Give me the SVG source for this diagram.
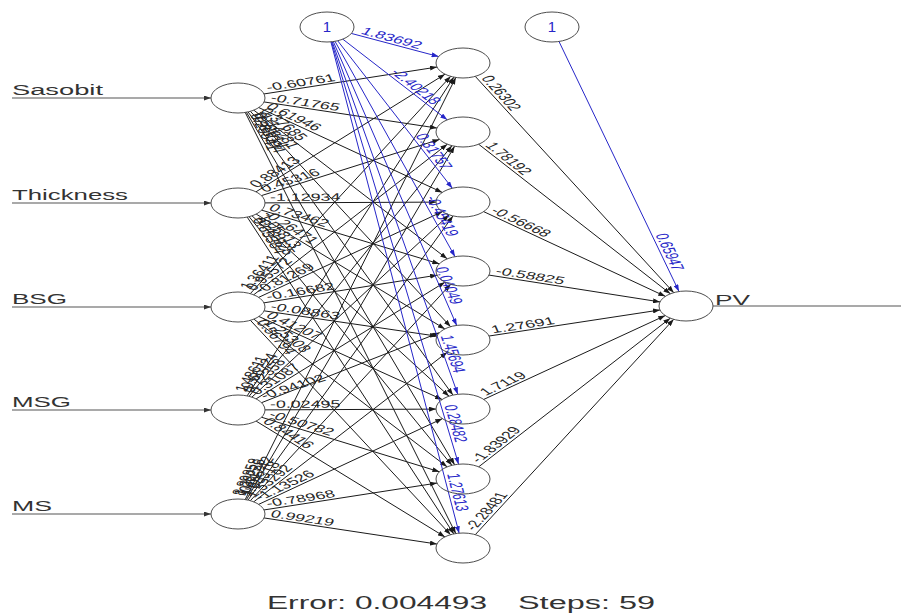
<svg xmlns="http://www.w3.org/2000/svg" width="901" height="615" viewBox="0 0 901 615">
<style>
.ln{stroke:#1a1a1a;stroke-width:1;fill:none;marker-end:url(#ak)}
.lb{stroke:#2626c8;stroke-width:1;fill:none;marker-end:url(#ab)}
.in{stroke:#555;stroke-width:1.2;fill:none}
.nd{fill:none;stroke:#4d4d4d;stroke-width:1}
.w{font-family:"Liberation Sans",Arial,sans-serif;font-size:10.5px;fill:#262626}
.wb{font-family:"Liberation Sans",Arial,sans-serif;font-size:10.5px;fill:#2626c8}
.t{font-family:"Liberation Sans",Arial,sans-serif;font-size:14px;fill:#333}
.one{font-family:"Liberation Sans",Arial,sans-serif;font-size:15px;fill:#2626c8;text-anchor:middle}
.ft{font-family:"Liberation Sans",Arial,sans-serif;font-size:18px;fill:#333}
</style>
<defs>
<marker id="ak" markerUnits="userSpaceOnUse" markerWidth="7" markerHeight="5" refX="7" refY="2.5" orient="auto"><path d="M0,0 L7,2.5 L0,5 Z" fill="#1a1a1a"/></marker>
<marker id="ab" markerUnits="userSpaceOnUse" markerWidth="7" markerHeight="5" refX="7" refY="2.5" orient="auto"><path d="M0,0 L7,2.5 L0,5 Z" fill="#2626c8"/></marker>
<marker id="ai" markerUnits="userSpaceOnUse" markerWidth="7" markerHeight="5" refX="7" refY="2.5" orient="auto"><path d="M0,0 L7,2.5 L0,5 Z" fill="#333"/></marker>
</defs>
<rect width="901" height="615" fill="#fff"/>
<g id="connectors">
<line class="in" x1="12" y1="98" x2="211" y2="98" marker-end="url(#ai)"/>
<line class="in" x1="12" y1="203" x2="211" y2="203" marker-end="url(#ai)"/>
<line class="in" x1="12" y1="307" x2="211" y2="307" marker-end="url(#ai)"/>
<line class="in" x1="12" y1="410" x2="211" y2="410" marker-end="url(#ai)"/>
<line class="in" x1="12" y1="514" x2="211" y2="514" marker-end="url(#ai)"/>
<line class="in" x1="713" y1="306" x2="901" y2="306"/>
<line class="ln" x1="264.0" y1="93.95" x2="437.0" y2="67.05"/>
<line class="ln" x1="264.05" y1="101.94" x2="436.95" y2="128.06"/>
<line class="ln" x1="258.8" y1="107.59" x2="442.2" y2="192.41"/>
<line class="ln" x1="253.8" y1="110.16" x2="447.2" y2="258.84"/>
<line class="ln" x1="250.4" y1="111.33" x2="450.6" y2="326.67"/>
<line class="ln" x1="248.07" y1="111.92" x2="452.93" y2="395.08"/>
<line class="ln" x1="246.42" y1="112.25" x2="454.58" y2="464.75"/>
<line class="ln" x1="245.23" y1="112.45" x2="455.77" y2="533.55"/>
<line class="ln" x1="256.0" y1="191.81" x2="445.0" y2="74.19"/>
<line class="ln" x1="261.5" y1="195.59" x2="439.5" y2="139.41"/>
<line class="ln" x1="265.0" y1="202.88" x2="436.0" y2="202.12"/>
<line class="ln" x1="261.7" y1="210.17" x2="439.3" y2="263.83"/>
<line class="ln" x1="256.2" y1="214.08" x2="444.8" y2="328.92"/>
<line class="ln" x1="252.0" y1="215.83" x2="449.0" y2="396.17"/>
<line class="ln" x1="249.1" y1="216.66" x2="451.9" y2="465.34"/>
<line class="ln" x1="247.2" y1="217.1" x2="453.8" y2="533.9"/>
<line class="ln" x1="250.3" y1="293.65" x2="450.7" y2="76.35"/>
<line class="ln" x1="253.7" y1="294.8" x2="447.3" y2="144.2"/>
<line class="ln" x1="258.7" y1="297.35" x2="442.3" y2="211.65"/>
<line class="ln" x1="263.9" y1="302.85" x2="437.1" y2="275.15"/>
<line class="ln" x1="264.1" y1="310.83" x2="436.9" y2="336.17"/>
<line class="ln" x1="258.9" y1="316.49" x2="442.1" y2="399.51"/>
<line class="ln" x1="253.9" y1="319.13" x2="447.1" y2="466.87"/>
<line class="ln" x1="250.4" y1="320.32" x2="450.6" y2="534.68"/>
<line class="ln" x1="247.15" y1="395.89" x2="453.85" y2="77.11"/>
<line class="ln" x1="249.07" y1="396.32" x2="451.93" y2="145.68"/>
<line class="ln" x1="251.9" y1="397.14" x2="449.1" y2="214.86"/>
<line class="ln" x1="256.1" y1="398.85" x2="444.9" y2="282.15"/>
<line class="ln" x1="261.6" y1="402.67" x2="439.4" y2="332.67"/>
<line class="ln" x1="265.0" y1="409.88" x2="436.0" y2="409.12"/>
<line class="ln" x1="261.6" y1="417.25" x2="439.4" y2="471.75"/>
<line class="ln" x1="256.1" y1="421.12" x2="444.9" y2="536.88"/>
<line class="ln" x1="245.21" y1="499.55" x2="455.79" y2="77.45"/>
<line class="ln" x1="246.4" y1="499.74" x2="454.6" y2="146.26"/>
<line class="ln" x1="248.04" y1="500.08" x2="452.96" y2="215.92"/>
<line class="ln" x1="250.35" y1="500.66" x2="450.65" y2="284.34"/>
<line class="ln" x1="253.75" y1="501.82" x2="447.25" y2="352.18"/>
<line class="ln" x1="258.7" y1="504.35" x2="442.3" y2="418.65"/>
<line class="ln" x1="264.0" y1="509.95" x2="437.0" y2="483.05"/>
<line class="ln" x1="264.05" y1="517.94" x2="436.95" y2="544.06"/>
<line class="lb" x1="351.4" y1="33.45" x2="438.6" y2="56.55"/>
<line class="lb" x1="342.8" y1="39.17" x2="447.2" y2="119.83"/>
<line class="lb" x1="337.7" y1="40.77" x2="452.3" y2="188.23"/>
<line class="lb" x1="335.0" y1="41.33" x2="455.0" y2="256.67"/>
<line class="lb" x1="333.3" y1="41.58" x2="456.7" y2="325.42"/>
<line class="lb" x1="332.2" y1="41.71" x2="457.8" y2="394.29"/>
<line class="lb" x1="331.5" y1="41.79" x2="458.6" y2="464.21"/>
<line class="lb" x1="330.9" y1="41.85" x2="459.1" y2="533.15"/>
<line class="ln" x1="475.26" y1="76.36" x2="673.74" y2="292.64"/>
<line class="ln" x1="478.66" y1="144.22" x2="670.34" y2="293.78"/>
<line class="ln" x1="483.68" y1="211.64" x2="665.32" y2="296.36"/>
<line class="ln" x1="488.98" y1="275.08" x2="660.02" y2="301.92"/>
<line class="ln" x1="489.04" y1="336.03" x2="659.96" y2="309.97"/>
<line class="ln" x1="483.76" y1="399.41" x2="665.24" y2="315.59"/>
<line class="ln" x1="478.72" y1="466.8" x2="670.28" y2="318.2"/>
<line class="ln" x1="475.3" y1="534.65" x2="673.7" y2="319.35"/>
<line class="lb" x1="559" y1="41.5" x2="679" y2="291.5"/>

<text class="w" transform="translate(264,93.95) scale(1.7,1) rotate(-14.81)" x="3" y="-2">-0.60761</text>
<text class="w" transform="translate(264.05,101.94) scale(1.7,1) rotate(14.41)" x="3" y="-2">-0.71765</text>
<text class="w" transform="translate(258.8,107.59) scale(1.7,1) rotate(38.16)" x="3" y="-2">0.61946</text>
<text class="w" transform="translate(253.8,110.16) scale(1.7,1) rotate(52.58)" x="3" y="-2">0.37685</text>
<text class="w" transform="translate(250.4,111.33) scale(1.7,1) rotate(61.32)" x="3" y="-2">-1.14281</text>
<text class="w" transform="translate(248.07,111.92) scale(1.7,1) rotate(66.95)" x="3" y="-2">0.52614</text>
<text class="w" transform="translate(246.42,112.25) scale(1.7,1) rotate(70.84)" x="3" y="-2">-0.83094</text>
<text class="w" transform="translate(245.23,112.45) scale(1.7,1) rotate(73.61)" x="3" y="-2">0.29541</text>
<text class="w" transform="translate(256,191.81) scale(1.7,1) rotate(-46.61)" x="3" y="-2">0.88413</text>
<text class="w" transform="translate(261.5,195.59) scale(1.7,1) rotate(-28.21)" x="3" y="-2">0.45316</text>
<text class="w" transform="translate(265,202.88) scale(1.7,1) rotate(-0.43)" x="3" y="-2">-1.12934</text>
<text class="w" transform="translate(261.7,210.17) scale(1.7,1) rotate(27.19)" x="3" y="-2">0.73462</text>
<text class="w" transform="translate(256.2,214.08) scale(1.7,1) rotate(45.98)" x="3" y="-2">-0.26471</text>
<text class="w" transform="translate(252,215.83) scale(1.7,1) rotate(57.28)" x="3" y="-2">1.05813</text>
<text class="w" transform="translate(249.1,216.66) scale(1.7,1) rotate(64.38)" x="3" y="-2">-0.41925</text>
<text class="w" transform="translate(247.2,217.1) scale(1.7,1) rotate(69.01)" x="3" y="-2">0.63384</text>
<text class="w" transform="translate(250.3,293.65) scale(1.7,1) rotate(-61.52)" x="3" y="-2">1.36411</text>
<text class="w" transform="translate(253.7,294.8) scale(1.7,1) rotate(-52.89)" x="3" y="-2">0.95572</text>
<text class="w" transform="translate(258.7,297.35) scale(1.7,1) rotate(-38.42)" x="3" y="-2">-0.81269</text>
<text class="w" transform="translate(263.9,302.85) scale(1.7,1) rotate(-15.22)" x="3" y="-2">-0.16682</text>
<text class="w" transform="translate(264.1,310.83) scale(1.7,1) rotate(14)" x="3" y="-2">-0.08863</text>
<text class="w" transform="translate(258.9,316.49) scale(1.7,1) rotate(37.62)" x="3" y="-2">0.41207</text>
<text class="w" transform="translate(253.9,319.13) scale(1.7,1) rotate(52.42)" x="3" y="-2">-1.25308</text>
<text class="w" transform="translate(250.4,320.32) scale(1.7,1) rotate(61.23)" x="3" y="-2">0.56794</text>
<text class="w" transform="translate(247.15,395.89) scale(1.7,1) rotate(-69.12)" x="3" y="-2">1.48611</text>
<text class="w" transform="translate(249.07,396.32) scale(1.7,1) rotate(-64.54)" x="3" y="-2">-0.66724</text>
<text class="w" transform="translate(251.9,397.14) scale(1.7,1) rotate(-57.53)" x="3" y="-2">0.72358</text>
<text class="w" transform="translate(256.1,398.85) scale(1.7,1) rotate(-46.4)" x="3" y="-2">0.31087</text>
<text class="w" transform="translate(261.6,402.67) scale(1.7,1) rotate(-27.87)" x="3" y="-2">-0.94102</text>
<text class="w" transform="translate(265,409.88) scale(1.7,1) rotate(-0.43)" x="3" y="-2">-0.02495</text>
<text class="w" transform="translate(261.6,417.25) scale(1.7,1) rotate(27.53)" x="3" y="-2">-0.50782</text>
<text class="w" transform="translate(256.1,421.12) scale(1.7,1) rotate(46.2)" x="3" y="-2">0.84416</text>
<text class="w" transform="translate(245.21,499.55) scale(1.7,1) rotate(-73.65)" x="3" y="-2">8.89858</text>
<text class="w" transform="translate(246.4,499.74) scale(1.7,1) rotate(-70.89)" x="3" y="-2">1.26235</text>
<text class="w" transform="translate(248.04,500.08) scale(1.7,1) rotate(-67.01)" x="3" y="-2">-0.61742</text>
<text class="w" transform="translate(250.35,500.66) scale(1.7,1) rotate(-61.42)" x="3" y="-2">1.68318</text>
<text class="w" transform="translate(253.75,501.82) scale(1.7,1) rotate(-52.74)" x="3" y="-2">1.53292</text>
<text class="w" transform="translate(258.7,504.35) scale(1.7,1) rotate(-38.42)" x="3" y="-2">-1.13526</text>
<text class="w" transform="translate(264,509.95) scale(1.7,1) rotate(-14.81)" x="3" y="-2">-0.78968</text>
<text class="w" transform="translate(264.05,517.94) scale(1.7,1) rotate(14.41)" x="3" y="-2">0.99219</text>
<text class="wb" text-anchor="end" transform="translate(417.3,50.9) scale(1.7,1) rotate(24.23)" y="-2">1.83692</text>
<text class="wb" text-anchor="end" transform="translate(429.8,106.4) scale(1.7,1) rotate(52.7)" y="-2">-2.40218</text>
<text class="wb" text-anchor="end" transform="translate(438.8,170.9) scale(1.7,1) rotate(65.43)" y="-2">0.31757</text>
<text class="wb" text-anchor="end" transform="translate(444.3,237.5) scale(1.7,1) rotate(71.85)" y="-2">-0.45419</text>
<text class="wb" text-anchor="end" transform="translate(447.9,305.2) scale(1.7,1) rotate(75.66)" y="-2">0.04049</text>
<text class="wb" text-anchor="end" transform="translate(450.4,373.6) scale(1.7,1) rotate(78.17)" y="-2">1.45694</text>
<text class="wb" text-anchor="end" transform="translate(452.2,443.1) scale(1.7,1) rotate(79.96)" y="-2">0.28482</text>
<text class="wb" text-anchor="end" transform="translate(453.5,511.9) scale(1.7,1) rotate(81.27)" y="-2">1.27613</text>
<text class="w" transform="translate(475.26,76.36) scale(1.7,1) rotate(61.64)" x="3" y="-2">0.26302</text>
<text class="w" transform="translate(478.66,144.22) scale(1.7,1) rotate(52.99)" x="3" y="-2">1.78192</text>
<text class="w" transform="translate(483.68,211.64) scale(1.7,1) rotate(38.41)" x="3" y="-2">-0.56668</text>
<text class="w" transform="translate(488.98,275.08) scale(1.7,1) rotate(14.94)" x="3" y="-2">-0.58825</text>
<text class="w" transform="translate(489.04,336.03) scale(1.7,1) rotate(-14.53)" x="3" y="-2">1.27691</text>
<text class="w" transform="translate(483.76,399.41) scale(1.7,1) rotate(-38.14)" x="3" y="-2">1.7119</text>
<text class="w" transform="translate(478.72,466.8) scale(1.7,1) rotate(-52.83)" x="3" y="-2">-1.83929</text>
<text class="w" transform="translate(475.3,534.65) scale(1.7,1) rotate(-61.54)" x="3" y="-2">-2.28481</text>
<text class="wb" text-anchor="end" transform="translate(669.5,271.7) scale(1.7,1) rotate(74.23)" y="-2">0.65947</text>
</g>
<g id="in-sasobit"><text class="t" x="12" y="95" textLength="91" lengthAdjust="spacingAndGlyphs">Sasobit</text><ellipse class="nd" cx="238" cy="98" rx="27" ry="15"/></g>
<g id="in-thickness"><text class="t" x="12" y="200" textLength="116" lengthAdjust="spacingAndGlyphs">Thickness</text><ellipse class="nd" cx="238" cy="203" rx="27" ry="15"/></g>
<g id="in-bsg"><text class="t" x="12" y="304" textLength="55" lengthAdjust="spacingAndGlyphs">BSG</text><ellipse class="nd" cx="238" cy="307" rx="27" ry="15"/></g>
<g id="in-msg"><text class="t" x="12" y="407" textLength="59" lengthAdjust="spacingAndGlyphs">MSG</text><ellipse class="nd" cx="238" cy="410" rx="27" ry="15"/></g>
<g id="in-ms"><text class="t" x="12" y="511" textLength="40" lengthAdjust="spacingAndGlyphs">MS</text><ellipse class="nd" cx="238" cy="514" rx="27" ry="15"/></g>
<g id="bias1"><ellipse class="nd" cx="327" cy="27" rx="27" ry="15"/><text class="one" x="327" y="32">1</text></g>
<g id="bias2"><ellipse class="nd" cx="552" cy="27" rx="27" ry="15"/><text class="one" x="552" y="32">1</text></g>
<g id="h1"><ellipse class="nd" cx="463" cy="63" rx="27" ry="15"/></g>
<g id="h2"><ellipse class="nd" cx="463" cy="132" rx="27" ry="15"/></g>
<g id="h3"><ellipse class="nd" cx="463" cy="202" rx="27" ry="15"/></g>
<g id="h4"><ellipse class="nd" cx="463" cy="271" rx="27" ry="15"/></g>
<g id="h5"><ellipse class="nd" cx="463" cy="340" rx="27" ry="15"/></g>
<g id="h6"><ellipse class="nd" cx="463" cy="409" rx="27" ry="15"/></g>
<g id="h7"><ellipse class="nd" cx="463" cy="479" rx="27" ry="15"/></g>
<g id="h8"><ellipse class="nd" cx="463" cy="548" rx="27" ry="15"/></g>
<g id="out-pv"><ellipse class="nd" cx="686" cy="306" rx="27" ry="15"/><text class="t" x="715" y="305" textLength="35" lengthAdjust="spacingAndGlyphs">PV</text></g>
<g id="footer"><text class="ft" x="267" y="609" textLength="220" lengthAdjust="spacingAndGlyphs">Error: 0.004493</text><text class="ft" x="518" y="609" textLength="137" lengthAdjust="spacingAndGlyphs">Steps: 59</text></g>
</svg>
